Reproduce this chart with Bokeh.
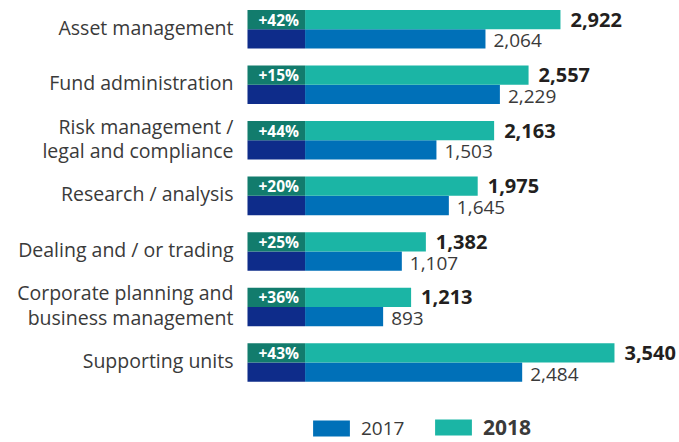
from bokeh.plotting import figure
from bokeh.models import Range1d, Legend, LegendItem, ColumnDataSource
from bokeh.core.properties import value
from bokeh.embed import file_html
from bokeh.resources import INLINE

categories = [
    "Asset management",
    "Fund administration",
    "Risk management /\nlegal and compliance",
    "Research / analysis",
    "Dealing and / or trading",
    "Corporate planning and\nbusiness management",
    "Supporting units",
]
v2017 = [2064, 2229, 1503, 1645, 1107, 893, 2484]
v2018 = [2922, 2557, 2163, 1975, 1382, 1213, 3540]
years = ["2017", "2018"]

C17 = "#0070b8"
C18 = "#1bb5a5"
C17_DARK = "#0e2c8a"
C18_DARK = "#127c6d"
TXT = "#3a3a3a"
FONT = "Open Sans"

n = len(categories)
bar_h = 0.347
idx = list(range(n))
src = ColumnDataSource(dict(
    y=idx,
    y17=[i + bar_h / 2 for i in idx],
    y18=[i - bar_h / 2 for i in idx],
    v2017=v2017,
    v2018=v2018,
    lab17=[f"{v:,}" for v in v2017],
    lab18=[f"{v:,}" for v in v2018],
    pct=[f"+{round((b / a - 1) * 100)}%" for a, b in zip(v2017, v2018)],
    cat=categories,
))

BOX = -659

p = figure(width=679, height=442, x_range=Range1d(-3485, 4284),
           y_range=Range1d(7.440, -0.5167), output_backend="svg",
           toolbar_location=None, min_border=0)
p.axis.visible = False
p.xgrid.visible = False
p.ygrid.visible = False
p.outline_line_color = None

r17 = p.hbar(y="y17", left=0, right="v2017", height=bar_h, source=src,
             fill_color=C17, line_color=None)
r18 = p.hbar(y="y18", left=0, right="v2018", height=bar_h, source=src,
             fill_color=C18, line_color=None)
p.hbar(y="y17", left=BOX, right=0, height=bar_h, source=src,
       fill_color=C17_DARK, line_color=None)
p.hbar(y="y18", left=BOX, right=0, height=bar_h, source=src,
       fill_color=C18_DARK, line_color=None)

p.text(x="v2018", y="y18", text="lab18", source=src, x_offset=10,
       text_baseline="middle", text_font=value(FONT), text_font_style="bold",
       text_font_size="20px", text_color="#231f20")
p.text(x="v2017", y="y17", text="lab17", source=src, x_offset=8, y_offset=2,
       text_baseline="middle", text_font=value(FONT),
       text_font_size="19px", text_color=TXT)
p.text(x=BOX, y="y18", text="pct", source=src, x_offset=11,
       text_baseline="middle", text_font=value(FONT), text_font_style="bold",
       text_font_size="15.5px", text_color="white")
p.text(x=BOX, y="y", text="cat", source=src, x_offset=-14, y_offset=-2,
       text_align="right", text_baseline="middle", text_font=value(FONT),
       text_font_size="19.5px", text_color=TXT, text_line_height=0.9)

common = dict(orientation="horizontal", glyph_width=46, glyph_height=20,
              label_text_font=FONT, label_text_color=TXT, padding=0,
              margin=0, spacing=0, border_line_color=None,
              background_fill_alpha=0, label_standoff=7, label_height=20)
leg17 = Legend(items=[LegendItem(label=years[0], renderers=[r17])],
               location=(308, 1), label_text_font_size="19px", **common)
leg18 = Legend(items=[LegendItem(label=years[1], renderers=[r18])],
               location=(430, 1), label_text_font_size="21px",
               label_text_font_style="bold", **common)
p.add_layout(leg17)
p.add_layout(leg18)

open("out.html", "w").write(file_html(p, INLINE))
